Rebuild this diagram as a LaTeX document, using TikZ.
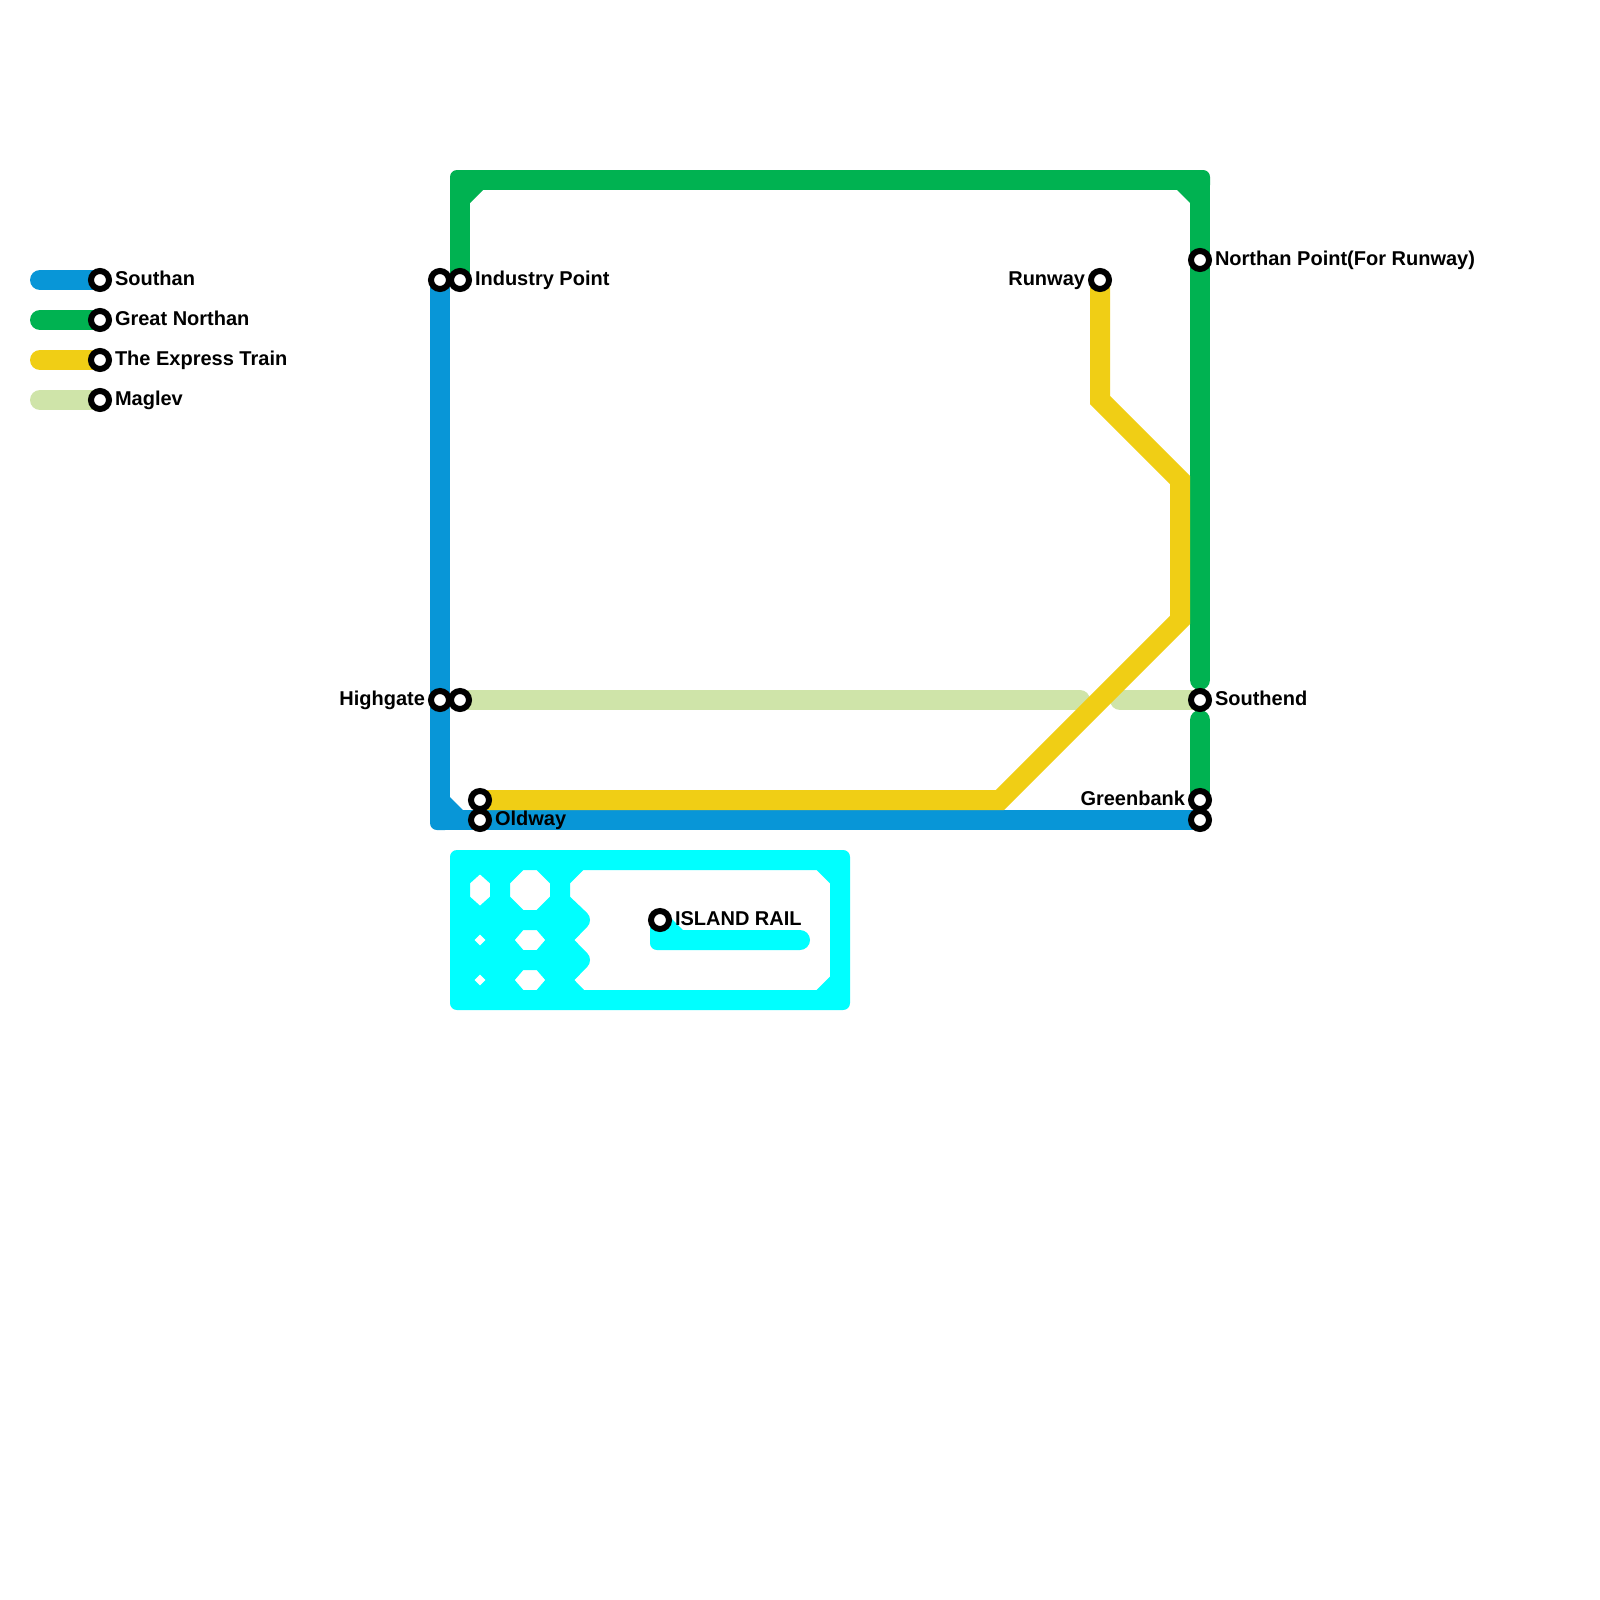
\documentclass[tikz,border=0pt]{standalone}
\usepackage{fontspec}
\setmainfont{Liberation Sans}
\usetikzlibrary{backgrounds}
\definecolor{lblue}{HTML}{0896D7}
\definecolor{lgreen}{HTML}{00B251}
\definecolor{lyellow}{HTML}{F0CE15}
\definecolor{lmaglev}{HTML}{CFE4A9}
\definecolor{lcyan}{RGB}{0,255,255}
\tikzset{
  stn/.style={circle,draw=black,fill=white,line width=3pt,minimum size=9pt,inner sep=0pt,outer sep=0pt},
  lbl/.style={font=\fontsize{10pt}{12pt}\selectfont\bfseries,text=black,inner sep=0pt,outer sep=0pt},
  lblR/.style={lbl,anchor=base west},
  lblL/.style={lbl,anchor=base east},
  metro/.style={line width=10pt,line cap=round,line join=miter},
}
\begin{document}
\begin{tikzpicture}[x=0.5pt,y=-0.5pt]
\useasboundingbox (0,0) rectangle (1600,1600);
% stations
\node[stn] (lg1) at (100,280) {};
\node[stn] (lg2) at (100,320) {};
\node[stn] (lg3) at (100,360) {};
\node[stn] (lg4) at (100,400) {};
\coordinate (ls1) at (40,280);
\coordinate (ls2) at (40,320);
\coordinate (ls3) at (40,360);
\coordinate (ls4) at (40,400);
\node[stn] (south) at (440,280) {};
\node[stn] (indus) at (460,280) {};
\node[stn] (north) at (1200,260) {};
\node[stn] (runway) at (1100,280) {};
\node[stn] (high) at (440,700) {};
\node[stn] (highb) at (460,700) {};
\node[stn] (send) at (1200,700) {};
\node[stn] (green) at (1200,800) {};
\node[stn] (greenb) at (1200,820) {};
\node[stn] (oldy) at (480,800) {};
\node[stn] (old) at (480,820) {};
\node[stn] (island) at (660,920) {};
% corner points
\coordinate (bc) at (440,820);
\coordinate (gc1) at (460,180);
\coordinate (gc2) at (1200,180);
\coordinate (ge1) at (1200,680);
\coordinate (ge2) at (1200,720);
\coordinate (mg1) at (1080,700);
\coordinate (mg2) at (1120,700);
\coordinate (y1) at (1100,400);
\coordinate (y2) at (1180,480);
\coordinate (y3) at (1180,620);
\coordinate (y4) at (1000,800);
% labels
\node[lblR] (t1) at (115,285) {Southan};
\node[lblR] (t2) at (115,325) {Great Northan};
\node[lblR] (t3) at (115,365) {The Express Train};
\node[lblR] (t4) at (115,405) {Maglev};
\node[lblR] (t5) at (475,285) {Industry Point};
\node[lblL] (t6) at (1085,285) {Runway};
\node[lblR] (t7) at (1215,265) {Northan Point(For Runway)};
\node[lblL] (t8) at (425,705) {Highgate};
\node[lblR] (t9) at (1215,705) {Southend};
\node[lblL] (t10) at (1185,805) {Greenbank};
\node[lblR] (t11) at (495,825) {Oldway};
\node[lblR] (t12) at (675,925) {ISLAND RAIL};
\begin{scope}[on background layer]
  \fill[white] (0,0) rectangle (1600,1600);
  % island rail block
  \fill[lcyan,even odd rule]
    (457,850) -- (843,850) .. controls (847,850) and (850,853) .. (850,857)
    -- (850,1003) .. controls (850,1007) and (847,1010) .. (843,1010)
    -- (457,1010) .. controls (453,1010) and (450,1007) .. (450,1003)
    -- (450,857) .. controls (450,853) and (453,850) .. (457,850) -- cycle
    (480,874.3) -- (490,883.3) -- (490,896.7) -- (480,905.7) -- (470,896.7) -- (470,883.3) -- cycle
    (523.3,870) -- (536.7,870) -- (550,883.3) -- (550,896.7) -- (536.7,910) -- (523.3,910) -- (510,896.7) -- (510,883.3) -- cycle
    (480,934.3) -- (485.7,940) -- (480,945.7) -- (474.3,940) -- cycle
    (480,974.3) -- (485.7,980) -- (480,985.7) -- (474.3,980) -- cycle
    (523.3,930) -- (536.7,930) -- (545.3,940) -- (536.7,950) -- (523.3,950) -- (514.7,940) -- cycle
    (523.3,970) -- (536.7,970) -- (545.3,980) -- (536.7,990) -- (523.3,990) -- (514.7,980) -- cycle
    (583.3,870) -- (816.7,870) -- (830,883.3) -- (830,976.7) -- (816.7,990) -- (584,990) -- (574.3,980)
    -- (587.07,967.07) .. controls (591,963.2) and (591,956.8) .. (587.07,952.93)
    -- (574.3,940)
    -- (587.07,927.07) .. controls (591,923.2) and (591,916.8) .. (587.07,912.93)
    -- (570,896.7) -- (570,883.3) -- cycle;
  \fill[lcyan] (650,915) -- (650,943) .. controls (650,947) and (653,950) .. (657,950)
    -- (800,950) .. controls (805.5,950) and (810,945.5) .. (810,940)
    .. controls (810,934.5) and (805.5,930) .. (800,930) -- (683,930) -- (670,917) -- cycle;
  % legend
  \draw[metro,lblue] (ls1) -- (lg1.center);
  \draw[metro,lgreen] (ls2) -- (lg2.center);
  \draw[metro,lyellow] (ls3) -- (lg3.center);
  \draw[metro,lmaglev] (ls4) -- (lg4.center);
  % maglev
  \draw[metro,lmaglev] (highb.center) -- (mg1);
  \draw[metro,lmaglev] (mg2) -- (send.center);
  % blue
  \draw[metro,lblue,line join=round] (south.center) -- (bc) -- (greenb.center);
  \fill[lblue] (445,815) -- (430,815) [rounded corners=3.5pt] -- (430,830) [sharp corners] -- (445,830) -- cycle;
  \fill[lblue] (450,797) -- (463,810) -- (445,815) -- cycle;
  % green
  \draw[metro,lgreen,line join=round] (indus.center) -- (gc1) -- (gc2) -- (ge1);
  \fill[lgreen] (465,185) -- (450,185) [rounded corners=3.5pt] -- (450,170) [sharp corners] -- (465,170) -- cycle;
  \fill[lgreen] (470,203) -- (483,190) -- (465,185) -- cycle;
  \fill[lgreen] (1195,170) [rounded corners=3.5pt] -- (1210,170) [sharp corners] -- (1210,185) -- (1195,185) -- cycle;
  \fill[lgreen] (1190,203) -- (1177,190) -- (1195,185) -- cycle;
  \draw[metro,lgreen] (ge2) -- (green.center);
  % yellow
  \draw[metro,lyellow] (runway.center) -- (y1) -- (y2) -- (y3) -- (y4) -- (oldy.center);
\end{scope}
\end{tikzpicture}
\end{document}
